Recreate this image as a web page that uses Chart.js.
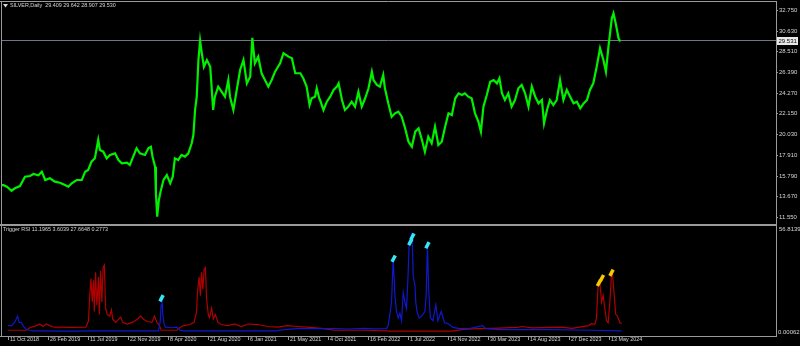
<!DOCTYPE html>
<html><head><meta charset="utf-8">
<script src="https://cdn.jsdelivr.net/npm/chart.js@4/dist/chart.umd.min.js"></script>
<style>
html,body{margin:0;padding:0;background:#000;width:800px;height:346px;overflow:hidden}
#wrapA{position:absolute;left:0;top:0;width:800px;height:225px}
#wrapB{position:absolute;left:0;top:225px;width:800px;height:121px}
canvas{display:block}
</style></head><body>
<div id="wrapA"><canvas id="a" width="800" height="225"></canvas></div>
<div id="wrapB"><canvas id="b" width="800" height="121"></canvas></div>
<script>
// ---- data (x = trading-day index from 11 Oct 2018) ----
const symbolTitle = "SILVER,Daily  29.409 29.642 28.907 29.530";
const rsiTitle = "Trigger RSI 11.1965 3.6039 27.6648 0.2773";
const bidPrice = 29.53;
const bidLabel = "29.531";
const priceTicks = [11.55, 13.67, 15.79, 17.91, 20.03, 22.15, 24.27, 26.39, 28.51, 30.63, 32.75];
const priceMin = 10.833, priceMax = 33.569;
const rsiMax = 56.8139, rsiMin = 0;
const rsiTopLabel = "56.8139", rsiBottomLabel = "0.00062";
const dayMax = 1841;
const xTickDays = [0, 96, 192, 288, 384, 480, 576, 672, 768, 864, 960, 1056, 1152, 1248, 1344, 1440];
const xTickLabels = ["11 Oct 2018","26 Feb 2019","11 Jul 2019","22 Nov 2019","8 Apr 2020","21 Aug 2020","6 Jan 2021","21 May 2021","4 Oct 2021","16 Feb 2022","1 Jul 2022","14 Nov 2022","30 Mar 2023","14 Aug 2023","27 Dec 2023","13 May 2024"];

const priceSeries = [
[0,14.76],[5,14.83],[14,14.65],[25,14.24],[33,14.49],[45,14.72],[57,15.68],[69,15.75],[77,15.95],[89,15.82],
[97,16.19],[105,15.34],[116,15.51],[128,15.17],[140,15.06],[152,14.83],[160,14.65],[168,15.00],[180,15.34],[192,15.34],
[200,16.19],[207,16.36],[215,17.21],[223,17.56],[231,19.44],[235,18.41],[243,18.24],[251,17.56],[259,17.90],[271,18.07],
[279,17.39],[287,17.05],[299,17.11],[306,16.88],[314,17.73],[322,18.59],[330,18.07],[342,17.90],[350,18.59],[356,18.75],
[360,17.73],[366,16.70],[368,13.98],[371,11.58],[375,13.29],[379,14.14],[386,15.34],[394,15.85],[402,15.00],[408,15.68],
[413,17.56],[421,17.39],[429,17.90],[437,17.73],[445,18.07],[453,19.10],[457,19.95],[461,22.51],[465,23.87],[469,27.63],
[473,29.60],[477,28.32],[482,26.94],[489,27.63],[497,26.94],[504,22.51],[508,23.87],[516,24.90],[524,24.38],[532,23.87],
[540,25.58],[544,23.87],[552,22.51],[560,24.56],[568,26.61],[576,27.63],[584,25.24],[592,25.92],[597,29.90],[603,27.29],
[611,27.97],[619,26.27],[627,25.58],[635,24.90],[643,25.58],[651,26.43],[663,27.29],[671,28.32],[683,27.97],[691,27.80],
[699,26.27],[711,26.27],[718,25.76],[726,24.90],[733,23.02],[738,23.71],[746,23.87],[750,24.73],[756,23.71],[758,23.53],
[766,22.51],[774,23.36],[782,23.87],[790,24.56],[798,24.90],[802,25.24],[810,23.53],[817,22.51],[825,22.85],[833,23.36],
[841,22.85],[849,24.38],[857,22.85],[865,23.71],[873,24.73],[881,26.43],[885,25.58],[893,25.07],[900,24.90],[908,26.09],
[912,24.73],[920,23.19],[928,21.82],[936,22.17],[944,22.34],[952,21.82],[960,20.63],[968,19.26],[976,18.75],[984,20.29],
[992,20.63],[1000,19.44],[1007,18.24],[1015,19.77],[1023,19.10],[1031,20.80],[1039,18.92],[1047,19.26],[1055,20.80],[1063,22.17],
[1071,21.99],[1079,23.71],[1087,24.22],[1095,24.05],[1102,24.22],[1110,23.87],[1118,23.71],[1126,22.17],[1134,21.31],[1140,20.29],
[1146,22.85],[1154,24.05],[1162,25.41],[1170,25.58],[1178,25.24],[1184,25.76],[1190,24.22],[1197,23.53],[1205,24.22],[1213,22.85],
[1221,23.53],[1229,24.73],[1237,25.07],[1245,24.22],[1253,22.85],[1261,24.90],[1269,23.87],[1277,23.19],[1285,23.53],[1290,21.15],
[1297,22.51],[1304,23.53],[1312,23.02],[1320,23.53],[1328,25.58],[1336,23.53],[1344,24.56],[1352,23.87],[1360,23.19],[1368,23.36],
[1376,22.68],[1384,23.19],[1392,23.53],[1399,24.56],[1407,25.24],[1415,26.94],[1423,28.83],[1431,27.63],[1437,26.43],[1443,28.99],
[1451,31.90],[1455,32.41],[1461,31.22],[1467,29.85],[1471,29.53]
];

const rsiRed = [
[0,2.1],[45,2.1],[53,3.5],[69,4.7],[77,5.6],[85,4.2],[93,5.6],[101,4.7],[112,3.8],[156,3.7],
[188,3.8],[194,7.4],[197,21.4],[200,31.0],[203,17.9],[206,30.1],[208,12.6],[211,34.6],[214,16.1],[218,31.9],
[220,10.9],[223,35.4],[226,17.9],[229,37.2],[232,38.6],[235,14.4],[239,10.9],[245,10.0],[249,13.5],[252,8.3],
[259,6.5],[271,9.5],[276,6.5],[287,5.6],[299,6.5],[311,8.3],[319,10.0],[326,8.3],[334,7.0],[346,6.5],
[352,10.0],[358,6.5],[364,4.7],[368,2.1],[390,2.1],[406,2.1],[409,3.0],[421,4.7],[437,5.3],[447,6.5],
[453,12.6],[455,23.1],[459,31.9],[462,21.4],[465,34.6],[468,24.9],[471,36.3],[474,37.2],[477,19.6],[481,10.9],
[484,9.1],[489,14.4],[493,8.4],[498,10.9],[504,6.5],[512,5.3],[528,4.7],[544,5.6],[560,4.2],[576,5.6],
[600,5.3],[623,4.2],[647,3.8],[671,4.7],[694,4.2],[718,3.8],[758,3.0],[782,2.1],[853,2.1],[908,1.8],
[915,1.6],[995,1.6],[1067,1.6],[1091,2.6],[1126,3.0],[1162,3.2],[1221,3.7],[1233,4.2],[1257,3.4],[1328,3.8],
[1352,3.2],[1392,4.7],[1399,5.8],[1407,5.4],[1411,8.9],[1415,28.4],[1419,30.0],[1423,17.9],[1427,21.6],[1431,14.2],
[1435,7.4],[1439,6.3],[1443,17.9],[1447,33.7],[1449,34.7],[1453,23.1],[1457,11.0],[1461,10.0],[1467,6.3],[1471,5.8]
];

const rsiBlue = [
[0,4.7],[10,4.7],[17,6.5],[24,10.0],[28,6.5],[33,6.5],[37,4.7],[45,2.5],[61,1.7],[140,1.6],
[235,1.8],[330,1.7],[362,1.8],[366,7.4],[368,16.3],[370,19.6],[372,11.0],[375,5.8],[378,3.8],[394,3.5],
[406,3.8],[413,2.1],[425,1.7],[544,1.7],[646,1.8],[663,2.5],[694,3.0],[732,3.0],[782,3.0],[817,2.8],
[853,3.2],[877,2.9],[908,3.0],[912,4.7],[916,11.0],[920,17.9],[924,42.6],[928,21.6],[932,12.6],[936,8.9],
[940,11.6],[944,7.4],[948,23.1],[952,17.9],[956,14.2],[960,35.2],[962,49.4],[965,53.1],[969,56.81],[972,32.1],
[976,27.4],[978,17.9],[981,12.6],[986,8.9],[992,10.0],[1000,12.6],[1003,21.6],[1006,49.4],[1009,24.7],[1013,8.9],
[1019,7.4],[1026,16.3],[1031,7.4],[1039,12.6],[1047,6.3],[1055,5.8],[1067,3.7],[1083,3.0],[1106,3.0],[1138,4.7],
[1146,3.0],[1178,2.5],[1304,2.5],[1399,2.1],[1471,1.8]
];

const cyanSignals = [[369,20.0],[925,42.2],[965,51.5],[970,54.5],[1006,49.7]];
const yellowSignals = [[1417,28.6],[1424,31.3],[1447,34.3]];

// ---- styling ----
const FONT = '5.4px "Liberation Sans", Arial, sans-serif';
const FONT_Y = '6px "Liberation Sans", Arial, sans-serif';
const TXT = '#d6d6d6';
const FRAME = '#9a9a9a';
const toXY = arr => arr.map(p => ({x: p[0], y: p[1]}));

const panelA = {
  id: 'panelA',
  beforeDatasetsDraw(chart) {
    const {ctx, chartArea: a, scales: {y}} = chart;
    ctx.save();
    const py = Math.round(y.getPixelForValue(bidPrice)) - 0.5;
    ctx.strokeStyle = '#707784'; ctx.lineWidth = 1;
    ctx.beginPath(); ctx.moveTo(a.left, py); ctx.lineTo(a.right, py); ctx.stroke();
    ctx.restore();
  },
  afterDraw(chart) {
    const {ctx, chartArea: a, scales: {y}} = chart;
    ctx.save();
    ctx.strokeStyle = FRAME; ctx.lineWidth = 1;
    ctx.beginPath();
    ctx.moveTo(0, 1.5); ctx.lineTo(a.right + 1, 1.5);
    ctx.moveTo(1.5, 1); ctx.lineTo(1.5, 225);
    ctx.moveTo(a.right + 0.5, 1); ctx.lineTo(a.right + 0.5, 225);
    ctx.stroke();
    ctx.fillStyle = FRAME; ctx.fillRect(0, 224, a.right + 1, 1);
    ctx.font = FONT_Y; ctx.textBaseline = 'middle'; ctx.textAlign = 'left';
    priceTicks.forEach(v => {
      const py = Math.round(y.getPixelForValue(v)) + 0.5;
      ctx.strokeStyle = FRAME;
      ctx.beginPath(); ctx.moveTo(a.right + 1, py); ctx.lineTo(a.right + 2, py); ctx.stroke();
      ctx.fillStyle = TXT;
      ctx.fillText(v.toFixed(3), a.right + 3, py);
    });
    // bid label
    const by = Math.round(y.getPixelForValue(bidPrice));
    ctx.fillStyle = '#e8e8e8';
    ctx.fillRect(a.right + 1, by - 4, 21, 8);
    ctx.fillStyle = '#000';
    ctx.fillText(bidLabel, a.right + 2.5, by);
    // title
    ctx.font = FONT;
    ctx.fillStyle = TXT;
    ctx.beginPath(); ctx.moveTo(3, 4); ctx.lineTo(8, 4); ctx.lineTo(5.5, 7.5); ctx.closePath(); ctx.fill();
    ctx.fillText(symbolTitle, 10, 6);
    ctx.restore();
  }
};

const panelB = {
  id: 'panelB',
  afterDraw(chart) {
    const {ctx, chartArea: a, scales: {x}} = chart;
    ctx.save();
    ctx.fillStyle = FRAME; ctx.fillRect(0, 0, a.right + 1, 1);
    ctx.strokeStyle = FRAME; ctx.lineWidth = 1;
    ctx.beginPath();
    ctx.moveTo(1.5, 0); ctx.lineTo(1.5, 111);
    ctx.moveTo(a.right + 0.5, 0); ctx.lineTo(a.right + 0.5, 111);
    ctx.moveTo(0, 111.5); ctx.lineTo(a.right + 1, 111.5);
    ctx.stroke();
    ctx.font = FONT; ctx.textBaseline = 'middle'; ctx.textAlign = 'left';
    xTickDays.forEach((d, i) => {
      const px = Math.round(x.getPixelForValue(d)) + 0.5;
      ctx.strokeStyle = FRAME;
      ctx.beginPath(); ctx.moveTo(px, 112); ctx.lineTo(px, 115); ctx.stroke();
      ctx.fillStyle = TXT;
      ctx.fillText(xTickLabels[i], px + 1.5, 114.5);
    });
    ctx.fillStyle = TXT;
    ctx.fillText(rsiTitle, 3, 4.5);
    ctx.font = FONT_Y;
    ctx.fillText(rsiTopLabel, a.right + 3, 4);
    ctx.fillText(rsiBottomLabel, a.right + 2, 107);
    ctx.restore();
  }
};

const common = {
  responsive: false, animation: false, devicePixelRatio: 1,
  plugins: {legend: {display: false}, tooltip: {enabled: false}},
  elements: {point: {radius: 0}, line: {tension: 0}}
};

new Chart(document.getElementById('a'), {
  type: 'line',
  data: {datasets: [{data: toXY(priceSeries), borderColor: '#00f000', borderWidth: 2.2, pointRadius: 0}]},
  options: Object.assign({}, common, {
    layout: {padding: {left: 1, right: 24, top: 2, bottom: 1}},
    scales: {
      x: {type: 'linear', display: false, min: 0, max: dayMax},
      y: {type: 'linear', display: false, min: priceMin, max: priceMax}
    }
  }),
  plugins: [panelA]
});

new Chart(document.getElementById('b'), {
  type: 'line',
  data: {datasets: [
    {data: toXY(cyanSignals), showLine: false, pointStyle: 'line', pointRadius: 3.5, pointRotation: -62,
     pointBorderColor: '#36e6f4', pointBorderWidth: 3.5, order: 0},
    {data: toXY(yellowSignals), showLine: false, pointStyle: 'line', pointRadius: 3.5, pointRotation: -62,
     pointBorderColor: '#f6c800', pointBorderWidth: 3.5, order: 0},
    {data: toXY(rsiBlue), borderColor: '#1018cc', borderWidth: 1.2, pointRadius: 0, order: 1},
    {data: toXY(rsiRed), borderColor: '#b00000', borderWidth: 1.2, pointRadius: 0, order: 2}
  ]},
  options: Object.assign({}, common, {
    layout: {padding: {left: 1, right: 24, top: 1, bottom: 12}},
    scales: {
      x: {type: 'linear', display: false, min: 0, max: dayMax},
      y: {type: 'linear', display: false, min: rsiMin, max: rsiMax}
    }
  }),
  plugins: [panelB]
});
</script>
</body></html>
